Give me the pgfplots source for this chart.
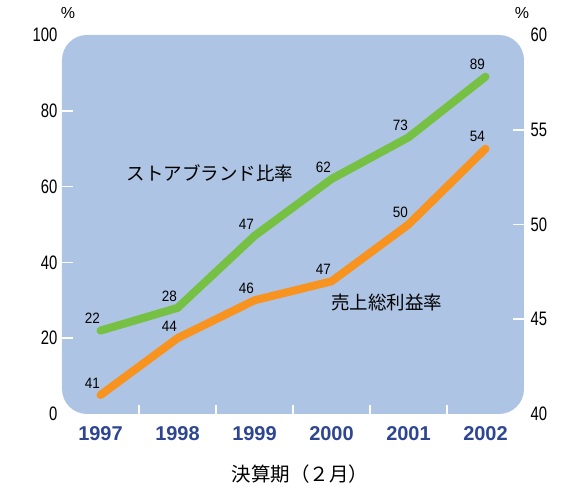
\documentclass[border=0pt]{standalone}
\usepackage{fontspec}
\setmainfont{Liberation Sans}
\newfontfamily\tickfont{Liberation Sans}[FakeStretch=0.76]
\newfontfamily\labfont{Liberation Sans}[FakeStretch=0.9]
\newfontfamily\cjk{Noto Sans CJK JP}
\usepackage{pgfplots}
\pgfplotsset{compat=1.18}
\definecolor{bgblue}{HTML}{AEC4E4}
\definecolor{yearblue}{HTML}{2E4592}
\definecolor{lgreen}{HTML}{76C043}
\definecolor{lorange}{HTML}{F7931E}
\begin{document}
\begin{tikzpicture}
\path[use as bounding box] (-62pt,-75pt) rectangle (511pt,414pt);
\begin{axis}[
  at={(0,0)}, anchor=south west, scale only axis,
  width=462pt, height=379pt,
  xmin=-0.5, xmax=5.5, ymin=0, ymax=100,
  axis background/.style={fill=bgblue, rounded corners=25pt},
  axis line style={draw=none},
  tick pos=left, tick align=inside,
  xtick={0,1,2,3,4,5},
  xticklabels={1997,1998,1999,2000,2001,2002},
  major x tick style={draw=none},
  minor xtick={0.5,1.5,2.5,3.5,4.5},
  minor tick length=9pt,
  minor x tick style={white, line width=1.6pt},
  ytick={0,20,40,60,80,100},
  major tick length=11pt,
  major y tick style={white, line width=1.6pt},
  xticklabel style={font=\fontsize{20}{22}\selectfont\bfseries, text=yearblue, yshift=-9pt},
  yticklabel style={font=\tickfont\fontsize{19.5}{21}\selectfont, xshift=-1pt},
  /pgf/number format/assume math mode=true,
  nodes near coords,
  every node near coord/.append style={font=\labfont\fontsize{15}{17}\selectfont, anchor=center, xshift=-8pt, yshift=12pt, text=black},
  clip=false,
]
\addplot[lgreen, line width=8pt, line cap=round, line join=round] coordinates {(0,22) (1,28) (2,47) (3,62) (4,73) (5,89)};
\node[font=\cjk\fontsize{18.5}{20}\selectfont] at (axis cs:1.42,63.4) {ストアブランド比率};
\node[font=\fontsize{16}{18}\selectfont] at (rel axis cs:0,1) [xshift=6pt, yshift=22pt] {\%};
\node[font=\cjk\fontsize{19.5}{21}\selectfont] at (rel axis cs:0.5,0) [xshift=7pt, yshift=-60pt] {決算期（２月）};
\end{axis}
\begin{axis}[
  at={(0,0)}, anchor=south west, scale only axis,
  width=462pt, height=379pt,
  xmin=-0.5, xmax=5.5, ymin=40, ymax=60,
  axis x line=none,
  axis y line*=right,
  axis line style={draw=none},
  tick align=inside,
  ytick={40,45,50,55,60},
  major tick length=11pt,
  major y tick style={white, line width=1.6pt},
  yticklabel style={font=\tickfont\fontsize{19.5}{21}\selectfont, xshift=3pt},
  /pgf/number format/assume math mode=true,
  nodes near coords,
  every node near coord/.append style={font=\labfont\fontsize{15}{17}\selectfont, anchor=center, xshift=-8pt, yshift=12pt, text=black},
  clip=false,
]
\addplot[lorange, line width=8pt, line cap=round, line join=round] coordinates {(0,41) (1,44) (2,46) (3,47) (4,50) (5,54)};
\node[font=\cjk\fontsize{18.5}{20}\selectfont] at (axis cs:3.72,45.87) {売上総利益率};
\node[font=\fontsize{16}{18}\selectfont] at (rel axis cs:1,1) [xshift=-2pt, yshift=22pt] {\%};
\end{axis}
\end{tikzpicture}
\end{document}
